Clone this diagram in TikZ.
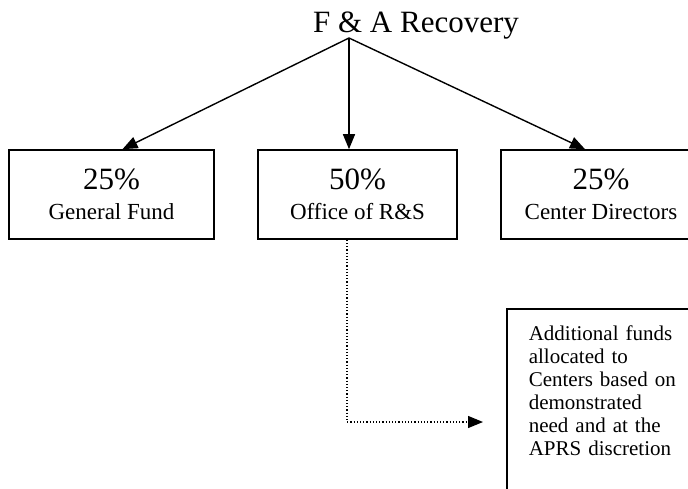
\documentclass[tikz,border=0pt]{standalone}
\usepackage{fontspec}
\setmainfont{Liberation Serif}
\usepackage{tikz}
\usetikzlibrary{arrows.meta}
\definecolor{black}{RGB}{0,0,0}
\definecolor{white}{RGB}{255,255,255}

\tikzset{
	share/.style={rectangle,draw=black,line width=1.6pt,inner sep=0pt,align=center,font=\fontsize{23}{30}\selectfont},
	flow/.style={black,line width=1.4pt,-{Triangle[length=15pt,width=12pt]}},
	extra/.style={black,line width=1.2pt,dotted,-{Triangle[length=15pt,width=12pt]}}
}
\newcommand{\pcttext}[1]{{\fontsize{31}{31}\selectfont #1}}

\begin{document}
\begin{tikzpicture}[x=1pt,y=-1pt]
	\useasboundingbox[fill=white] (0,0) rectangle (688,489);
	\clip (0,0) rectangle (688,489);

	\node[anchor=base,inner sep=0pt,font=\fontsize{31}{31}\selectfont] (fa) at (416,33) {F \& A Recovery};
	\coordinate (top) at (349,38);

	\node[share,minimum width=205pt,minimum height=89pt] (gf) at (111.5,194.5) {\pcttext{25\%}\\General Fund};
	\node[share,minimum width=199pt,minimum height=89pt] (rs) at (357.5,194.5) {\pcttext{50\%}\\Office of R\&S};
	\node[share,minimum width=200pt,minimum height=89pt] (cd) at (601,194.5) {\pcttext{25\%}\\Center Directors};

	\node[share,anchor=north west,align=left,text width=156pt,inner xsep=22pt,inner ysep=17pt,
		text depth=150pt,font=\fontsize{21}{23}\selectfont] (aprs) at (506,308)
		{Additional funds\\allocated to\\Centers based on\\demonstrated\\need and at the\\APRS discretion};
	\coordinate (tip) at (483,422);

	\foreach \x/\y in {gf/11,rs/-8.5,cd/-16}
		\draw[flow] (top) -- ([xshift=\y pt]\x.north);

	\draw[extra] ([xshift=-10.5pt]rs.south) |- (tip);
\end{tikzpicture}
\end{document}
